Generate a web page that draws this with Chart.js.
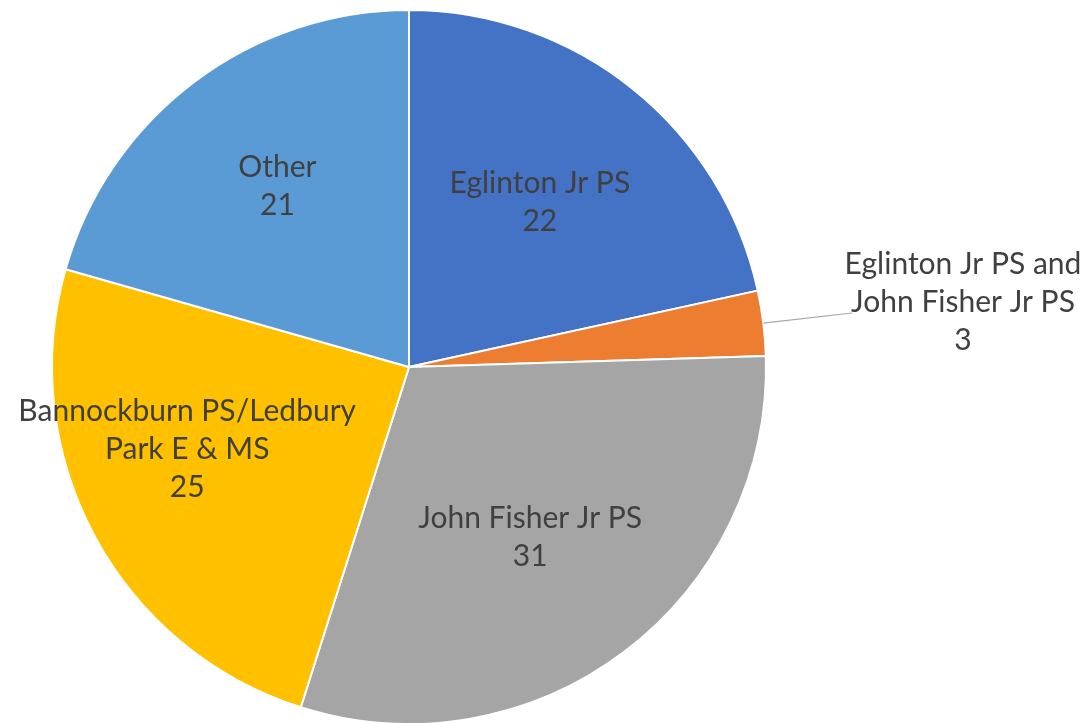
<!DOCTYPE html>
<html>
<head>
<meta charset="utf-8">
<script src="https://cdn.jsdelivr.net/npm/chart.js@4/dist/chart.umd.min.js"></script>
<style>
html,body{margin:0;padding:0;background:#fff;overflow:hidden;}
#wrap{position:relative;width:1087px;height:740px;}
</style>
</head>
<body>
<div id="wrap"><canvas id="c"></canvas></div>
<script>
const categories = ["Eglinton Jr PS", "Eglinton Jr PS and\nJohn Fisher Jr PS", "John Fisher Jr PS", "Bannockburn PS/Ledbury\nPark E & MS", "Other"];
const values = [22, 3, 31, 25, 21];
const colors = ["#4472C4", "#ED7D31", "#A5A5A5", "#FFC000", "#5B9BD5"];

// label placement: [radius fraction, angle offset (rad), outside?]
const labelPlace = [
  {r: 0.589, da: -0.006},
  {outside: true, lineEnd: [852, 313], text: [963, 302]},
  {r: 0.586, da: 0.029},
  {r: 0.663, da: 0.136},
  {r: 0.625, da: 0.016}
];

const FONT = '30px "Lato", "Open Sans", sans-serif';
const LINE_H = 38;

const labelPlugin = {
  id: 'sliceLabels',
  afterDatasetsDraw(chart) {
    const ctx = chart.ctx;
    const meta = chart.getDatasetMeta(0);
    ctx.save();
    ctx.font = FONT;
    ctx.fillStyle = '#404040';
    ctx.textAlign = 'center';
    ctx.textBaseline = 'middle';
    meta.data.forEach((arc, i) => {
      const p = arc.getProps(['x','y','startAngle','endAngle','outerRadius']);
      const mid = (p.startAngle + p.endAngle) / 2;
      const lines = categories[i].split('\n').concat([String(values[i])]);
      const pl = labelPlace[i];
      let cx, cy;
      if (pl.outside) {
        const sx = p.x + Math.cos(mid) * p.outerRadius;
        const sy = p.y + Math.sin(mid) * p.outerRadius;
        ctx.strokeStyle = '#A6A6A6';
        ctx.lineWidth = 1.2;
        ctx.beginPath();
        ctx.moveTo(sx, sy);
        ctx.lineTo(pl.lineEnd[0], pl.lineEnd[1]);
        ctx.stroke();
        cx = pl.text[0]; cy = pl.text[1];
      } else {
        const a = mid + pl.da;
        cx = p.x + Math.cos(a) * p.outerRadius * pl.r;
        cy = p.y + Math.sin(a) * p.outerRadius * pl.r;
      }
      const top = cy - (lines.length - 1) * LINE_H / 2;
      lines.forEach((t, k) => ctx.fillText(t, cx, top + k * LINE_H));
    });
    ctx.restore();
  }
};

new Chart(document.getElementById('c'), {
  type: 'pie',
  data: {
    labels: categories,
    datasets: [{
      data: values,
      backgroundColor: colors,
      borderColor: '#ffffff',
      borderWidth: 2
    }]
  },
  options: {
    responsive: true,
    maintainAspectRatio: false,
    animation: false,
    layout: {padding: {left: 51, right: 320, top: 9, bottom: 15}},
    plugins: {legend: {display: false}, tooltip: {enabled: false}}
  },
  plugins: [labelPlugin]
});
</script>
</body>
</html>
